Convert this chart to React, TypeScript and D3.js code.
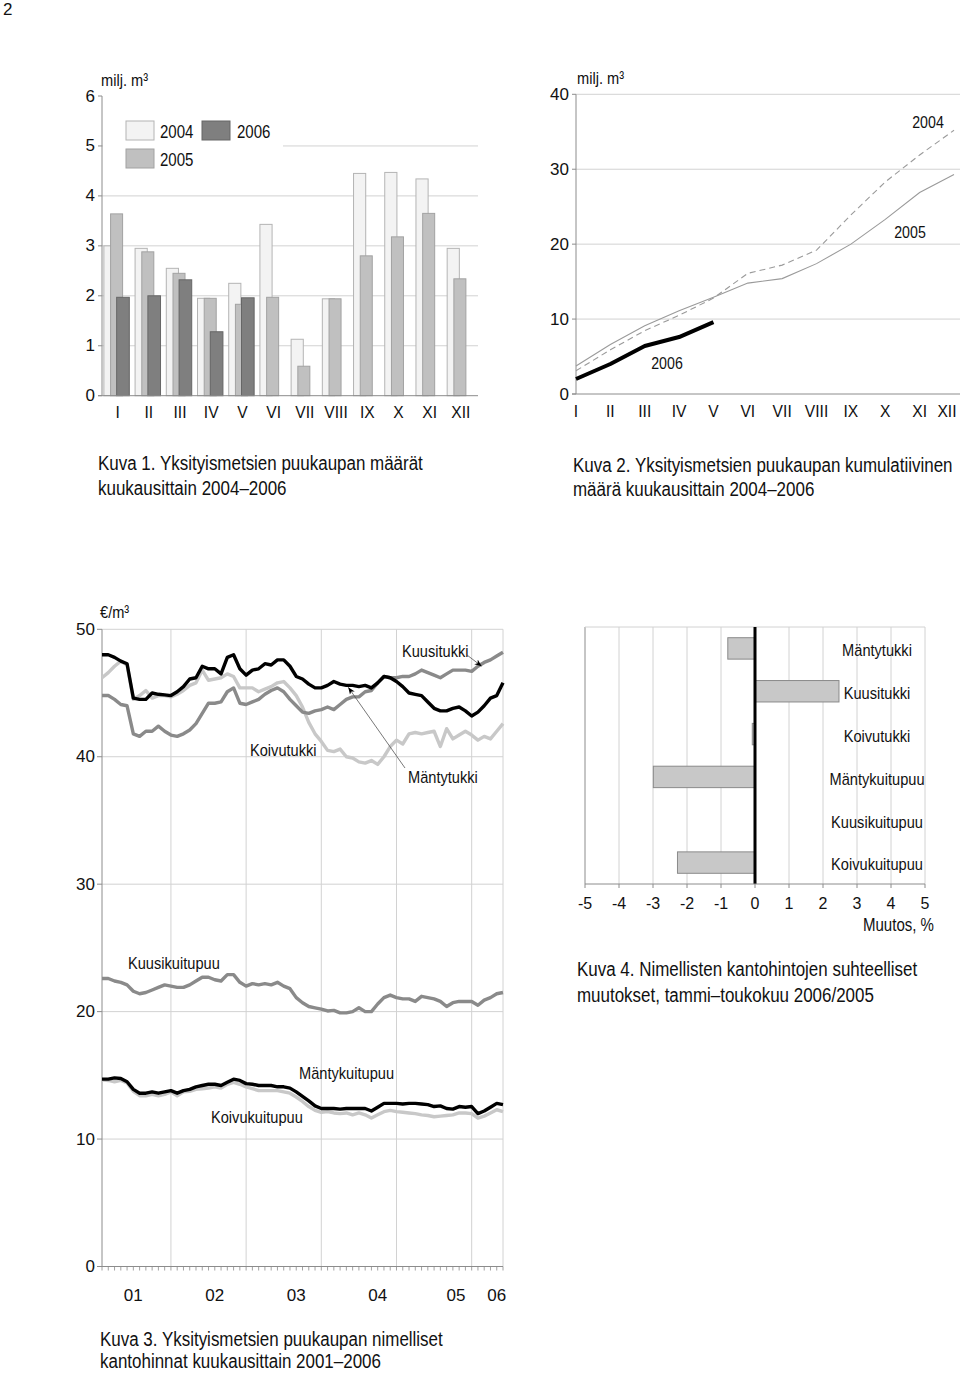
import * as d3 from "d3";

const FONT = "'Liberation Sans', Arial, Helvetica, sans-serif";
const GRID = "#d2d2d2";
const AXIS = "#8c8c8c";

// Kuva 1: monthly volumes, milj. m3
const months = ["I", "II", "III", "IV", "V", "VI", "VII", "VIII", "IX", "X", "XI", "XII"];
const vol2004 = [3.0, 2.95, 2.55, 1.95, 2.25, 3.43, 1.13, 1.94, 4.45, 4.47, 4.34, 2.95];
const vol2005 = [3.64, 2.88, 2.45, 1.95, 1.83, 1.97, 0.59, 1.94, 2.8, 3.18, 3.65, 2.34];
const vol2006 = [1.97, 2.0, 2.32, 1.28, 1.96];

// Kuva 2: cumulative volumes
const cum2004 = [3.1, 5.9, 8.45, 10.5, 12.8, 16.1, 17.2, 19.2, 23.9, 28.3, 31.9, 35.2];
const cum2005 = [3.74, 6.6, 9.1, 11.1, 12.9, 14.8, 15.4, 17.4, 20.0, 23.3, 26.9, 29.3];
const cum2006 = [2.0, 4.0, 6.4, 7.6, 9.6];

// Kuva 3: monthly stumpage prices 1/2001 - 5/2006, €/m3
const mantytukki = [
  48.0, 48.0, 47.8, 47.5, 47.3, 44.6, 44.5, 44.5, 45.0, 44.9, 44.85, 44.8, 45.1, 45.5, 46.1, 46.2,
  47.1, 46.9, 46.9, 46.5, 47.8, 48.0, 46.9, 46.4, 46.8, 46.9, 47.3, 47.2, 47.6, 47.6, 47.1, 46.3,
  46.1, 45.7, 45.4, 45.4, 45.6, 45.9, 45.7, 45.6, 45.6, 45.5, 45.6, 45.4, 45.8, 46.3, 46.2, 45.9,
  45.5, 45.0, 44.9, 44.8, 44.3, 43.8, 43.6, 43.6, 43.8, 43.9, 43.6, 43.2, 43.5, 44.0, 44.6, 44.8,
  45.8,
];
const kuusitukki = [
  44.8, 44.8, 44.5, 44.1, 44.0, 41.8, 41.6, 42.0, 42.0, 42.4, 42.0, 41.7, 41.6, 41.8, 42.1, 42.6,
  43.4, 44.2, 44.2, 44.3, 45.1, 45.4, 44.2, 44.1, 44.3, 44.5, 44.9, 45.2, 45.4, 45.1, 44.5, 44.0,
  43.5, 43.4, 43.6, 43.7, 43.9, 43.7, 44.1, 44.5, 44.7, 44.7, 45.1, 45.2, 45.8, 46.3, 46.2, 46.2,
  46.3, 46.3, 46.5, 46.8, 46.6, 46.4, 46.2, 46.5, 46.8, 46.8, 46.8, 46.7, 47.1, 47.4, 47.6, 47.9,
  48.2,
];
const koivutukki = [
  46.2, 46.6, 47.1, 47.5, 47.2, 44.5, 44.8, 45.2, 44.6, 44.8, 44.8, 44.7, 44.9, 45.2, 45.6, 45.8,
  46.8, 46.0, 46.1, 46.2, 46.5, 46.3, 45.4, 45.4, 45.4, 45.1, 45.3, 45.5, 45.8, 45.9, 45.4, 44.8,
  43.9, 42.7, 41.8, 41.2, 40.5, 40.4, 40.6, 40.0, 39.9, 39.6, 39.5, 39.7, 39.4, 40.0, 40.8, 41.3,
  41.0, 41.8, 41.9, 41.8, 41.9, 42.0, 40.8, 42.2, 41.4, 41.7, 42.0, 41.7, 41.3, 41.6, 41.4, 42.0,
  42.6,
];
const kuusikuitupuu = [
  22.6, 22.6, 22.4, 22.3, 22.1, 21.6, 21.4, 21.5, 21.7, 21.9, 22.1, 22.0, 21.9, 21.9, 22.1, 22.4,
  22.7, 22.7, 22.5, 22.4, 22.9, 22.9, 22.3, 22.0, 22.2, 22.1, 22.2, 22.1, 22.3, 22.0, 21.8, 21.1,
  20.7, 20.4, 20.3, 20.2, 20.05, 20.1, 19.9, 19.9, 20.0, 20.3, 20.0, 20.0, 20.6, 21.1, 21.3, 21.1,
  21.0, 21.0, 20.8, 21.2, 21.1, 21.0, 20.8, 20.4, 20.7, 20.8, 20.8, 20.8, 20.5, 20.9, 21.1, 21.4,
  21.5,
];
const mantykuitupuu = [
  14.7, 14.7, 14.8, 14.75, 14.5, 13.9, 13.6, 13.6, 13.7, 13.6, 13.7, 13.8, 13.6, 13.8, 13.9, 14.1,
  14.2, 14.3, 14.3, 14.2, 14.45, 14.7, 14.6, 14.35, 14.3, 14.2, 14.2, 14.2, 14.1, 14.1, 14.0, 13.7,
  13.35, 13.0, 12.6, 12.4, 12.4, 12.4, 12.35, 12.4, 12.4, 12.4, 12.4, 12.2, 12.5, 12.8, 12.8, 12.8,
  12.75, 12.8, 12.8, 12.75, 12.7, 12.55, 12.6, 12.4, 12.35, 12.55, 12.5, 12.55, 12.0, 12.2, 12.5, 12.8,
  12.7,
];
const koivukuitupuu = [
  14.65, 14.6, 14.5, 14.6, 14.4, 13.75, 13.4, 13.4, 13.5, 13.4, 13.5, 13.7, 13.4, 13.7, 13.75, 13.9,
  13.95, 14.0, 14.1, 14.0, 14.3, 14.45, 14.3, 14.1, 13.95, 13.8, 13.8, 13.8, 13.8, 13.7, 13.6, 13.3,
  12.95, 12.55, 12.25, 12.1, 12.15, 12.05, 12.0, 12.05, 11.9, 12.05, 11.9, 11.65, 11.9, 12.15, 12.25, 12.15,
  12.1, 12.05, 12.0, 11.9, 11.85, 11.75, 11.8, 11.85, 11.9, 12.05, 12.05, 12.0, 11.65, 11.8, 12.05, 12.3,
  12.15,
];
const yearLabels = ["01", "02", "03", "04", "05", "06"];
const yearLabelAt = [5, 18, 31, 44, 56.5, 63];
const yearBreaks = [11, 23, 35, 47, 59];
const priceTicks = [0, 10, 20, 30, 40, 50];

// Kuva 4: change 1-5/2006 vs 1-5/2005, %
const assortments = ["Mäntytukki", "Kuusitukki", "Koivutukki", "Mäntykuitupuu", "Kuusikuitupuu", "Koivukuitupuu"];
const changes = [-0.8, 2.47, -0.08, -2.99, 0, -2.28];
const changeTicks = [-5, -4, -3, -2, -1, 0, 1, 2, 3, 4, 5];

// condensed text like the original Helvetica Narrow
const T = ({ x, y, size = 17, anchor = "start", sx = 0.86, children }: any) => (
  <text
    transform={`translate(${x},${y}) scale(${sx},1)`}
    fontSize={size}
    textAnchor={anchor}
    dominantBaseline="central"
  >
    {children}
  </text>
);

const Chart1 = () => {
  const x = d3.scaleBand<string>().domain(months).range([102, 476.5]);
  const y = d3.scaleLinear().domain([0, 6]).range([395.7, 96]);
  const bw = x.bandwidth();
  const bars = [
    { data: vol2004, off: 0.06, w: 0.39, fill: "#f3f3f3", stroke: "#b4b4b4" },
    { data: vol2005, off: 0.275, w: 0.385, fill: "#c0c0c0", stroke: "#a2a2a2" },
    { data: vol2006, off: 0.47, w: 0.405, fill: "#7f7f7f", stroke: "#666" },
  ];
  return (
    <g>
      {[1, 2, 3, 4, 5].map((t) => (
        <line key={t} x1={102} x2={478} y1={y(t)} y2={y(t)} stroke={GRID} />
      ))}
      <rect x={103} y={108} width={180} height={70} fill="#fff" />
      {bars.map((b, k) =>
        b.data.map((v, i) => (
          <rect
            key={`${k}-${i}`}
            x={x(months[i])! + b.off * bw}
            y={y(v)}
            width={b.w * bw}
            height={y(0) - y(v)}
            fill={b.fill}
            stroke={b.stroke}
            strokeWidth={1}
          />
        ))
      )}
      <line x1={102} x2={102} y1={y(6)} y2={y(0)} stroke={AXIS} />
      <line x1={98} x2={478} y1={y(0)} y2={y(0)} stroke={AXIS} />
      {d3.range(0, 7).map((t) => (
        <g key={t}>
          <line x1={98} x2={102} y1={y(t)} y2={y(t)} stroke={AXIS} />
          <text x={95} y={y(t)} fontSize={17} textAnchor="end" dominantBaseline="central">
            {t}
          </text>
        </g>
      ))}
      {months.map((m) => (
        <T key={m} x={x(m)! + bw / 2} y={412} size={17} sx={0.92} anchor="middle">
          {m}
        </T>
      ))}
      <T x={101} y={80}>milj. m³</T>
      <rect x={126} y={121} width={28} height={19} fill="#f3f3f3" stroke="#b4b4b4" />
      <T x={160} y={132} size={17.5}>2004</T>
      <rect x={202} y={121} width={28} height={19} fill="#7f7f7f" stroke="#666" />
      <T x={237} y={132} size={17.5}>2006</T>
      <rect x={126} y={149} width={28} height={19} fill="#c0c0c0" stroke="#a2a2a2" />
      <T x={160} y={160} size={17.5}>2005</T>
      <T x={98} y={463} size={19.5} sx={0.87}>Kuva 1. Yksityismetsien puukaupan määrät</T>
      <T x={98} y={488} size={19.5} sx={0.87}>kuukausittain 2004–2006</T>
    </g>
  );
};

const Chart2 = () => {
  const x = d3.scalePoint<string>().domain(months).range([576, 954]);
  const y = d3.scaleLinear().domain([0, 40]).range([394, 94.3]);
  const line = d3
    .line<number>()
    .x((_, i) => x(months[i])!)
    .y((d) => y(d));
  return (
    <g>
      {[10, 20, 30, 40].map((t) => (
        <line key={t} x1={576} x2={960} y1={y(t)} y2={y(t)} stroke={GRID} />
      ))}
      <line x1={576} x2={576} y1={y(40)} y2={y(0)} stroke={AXIS} />
      <line x1={572} x2={960} y1={y(0)} y2={y(0)} stroke={AXIS} />
      {[0, 10, 20, 30, 40].map((t) => (
        <g key={t}>
          <line x1={572} x2={576} y1={y(t)} y2={y(t)} stroke={AXIS} />
          <text x={569} y={y(t)} fontSize={17} textAnchor="end" dominantBaseline="central">
            {t}
          </text>
        </g>
      ))}
      {months.map((m) => (
        <T key={m} x={Math.min(x(m)!, 947)} y={410.5} size={17} sx={0.92} anchor="middle">
          {m}
        </T>
      ))}
      <path d={line(cum2004)!} fill="none" stroke="#9a9a9a" strokeWidth={1.1} strokeDasharray="6,4" />
      <path d={line(cum2005)!} fill="none" stroke="#9a9a9a" strokeWidth={1.1} />
      <path d={line(cum2006)!} fill="none" stroke="#000" strokeWidth={4} strokeLinejoin="round" />
      <T x={577} y={78}>milj. m³</T>
      <T x={928} y={122} anchor="middle" size={16.5}>2004</T>
      <T x={910} y={232} anchor="middle" size={16.5}>2005</T>
      <T x={667} y={363} anchor="middle" size={16.5}>2006</T>
      <T x={573} y={465} size={19.5} sx={0.87}>Kuva 2. Yksityismetsien puukaupan kumulatiivinen</T>
      <T x={573} y={489} size={19.5} sx={0.87}>määrä kuukausittain 2004–2006</T>
    </g>
  );
};

const Chart3 = () => {
  const x = d3.scaleLinear().domain([0, 64]).range([102, 503]);
  const y = d3.scaleLinear().domain([0, 50]).range([1266.5, 629.3]);
  const line = d3
    .line<number>()
    .x((_, i) => x(i))
    .y((d) => y(d));
  const series = [
    { d: koivutukki, c: "#c8c8c8" },
    { d: kuusitukki, c: "#8a8a8a" },
    { d: mantytukki, c: "#000" },
    { d: kuusikuitupuu, c: "#8a8a8a" },
    { d: koivukuitupuu, c: "#c8c8c8" },
    { d: mantykuitupuu, c: "#000" },
  ];
  return (
    <g>
      <defs>
        <marker id="arr" viewBox="0 0 10 10" refX={10} refY={5} markerWidth={9} markerHeight={9} orient="auto">
          <path d="M0,1 L10,5 L0,9 L3,5 Z" fill="#000" />
        </marker>
      </defs>
      {priceTicks.slice(1).map((t) => (
        <line key={t} x1={102} x2={503} y1={y(t)} y2={y(t)} stroke={GRID} />
      ))}
      {[...yearBreaks, 64].map((b) => (
        <line key={b} x1={x(b)} x2={x(b)} y1={y(50)} y2={y(0)} stroke={GRID} />
      ))}
      <line x1={102} x2={102} y1={y(50)} y2={y(0)} stroke={AXIS} />
      <line x1={97} x2={503} y1={y(0)} y2={y(0)} stroke={AXIS} />
      {d3.range(0, 65).map((i) => (
        <line key={i} x1={x(i)} x2={x(i)} y1={y(0)} y2={y(0) + 4} stroke={AXIS} strokeWidth={0.8} />
      ))}
      {priceTicks.map((t) => (
        <g key={t}>
          <line x1={97} x2={102} y1={y(t)} y2={y(t)} stroke={AXIS} />
          <text x={95} y={y(t)} fontSize={17} textAnchor="end" dominantBaseline="central">
            {t}
          </text>
        </g>
      ))}
      {series.map((s, k) => (
        <path key={k} d={line(s.d)!} fill="none" stroke={s.c} strokeWidth={3.4} strokeLinejoin="round" />
      ))}
      {yearLabels.map((l, i) => (
        <text key={l} x={x(yearLabelAt[i])} y={1295} fontSize={17} textAnchor="middle" dominantBaseline="central">
          {l}
        </text>
      ))}
      <T x={100} y={612}>€/m³</T>
      <T x={402} y={651}>Kuusitukki</T>
      <line x1={467} y1={655} x2={x(60.6)} y2={y(47.1)} stroke="#555" strokeWidth={0.8} markerEnd="url(#arr)" />
      <T x={408} y={777}>Mäntytukki</T>
      <line x1={405} y1={768} x2={x(39.3)} y2={y(45.45)} stroke="#555" strokeWidth={0.8} markerEnd="url(#arr)" />
      <T x={250} y={750}>Koivutukki</T>
      <T x={128} y={963}>Kuusikuitupuu</T>
      <T x={299} y={1073}>Mäntykuitupuu</T>
      <T x={211} y={1117}>Koivukuitupuu</T>
      <T x={100} y={1339} size={19.5} sx={0.87}>Kuva 3. Yksityismetsien puukaupan nimelliset</T>
      <T x={100} y={1361} size={19.5} sx={0.87}>kantohinnat kuukausittain 2001–2006</T>
    </g>
  );
};

const Chart4 = () => {
  const x = d3.scaleLinear().domain([-5, 5]).range([585, 925]);
  const y = d3.scaleBand<string>().domain(assortments).range([627, 884]).paddingInner(0.5).paddingOuter(0.25);
  return (
    <g>
      {changeTicks.map((t) => (
        <line key={t} x1={x(t)} x2={x(t)} y1={627} y2={884} stroke={t === -5 ? AXIS : GRID} />
      ))}
      <line x1={585} x2={925} y1={627} y2={627} stroke={GRID} />
      {assortments.map((a, i) =>
        changes[i] === 0 ? null : (
          <rect
            key={a}
            x={x(Math.min(0, changes[i]))}
            y={y(a)!}
            width={Math.abs(x(changes[i]) - x(0))}
            height={y.bandwidth()}
            fill="#c8c8c8"
            stroke="#8a8a8a"
          />
        )
      )}
      <line x1={x(0)} x2={x(0)} y1={627} y2={884} stroke="#000" strokeWidth={3} />
      <line x1={585} x2={925} y1={884} y2={884} stroke={AXIS} />
      {changeTicks.map((t) => (
        <g key={t}>
          <line x1={x(t)} x2={x(t)} y1={884} y2={888} stroke={AXIS} />
          <text x={x(t)} y={903} fontSize={16} textAnchor="middle" dominantBaseline="central">
            {t}
          </text>
        </g>
      ))}
      {assortments.map((a) => (
        <T key={a} x={877} y={y(a)! + y.bandwidth() / 2 + 2} size={17} anchor="middle">
          {a}
        </T>
      ))}
      <T x={934} y={925} anchor="end" size={17.5}>Muutos, %</T>
      <T x={577} y={969} size={19.5} sx={0.87}>Kuva 4. Nimellisten kantohintojen suhteelliset</T>
      <T x={577} y={995} size={19.5} sx={0.87}>muutokset, tammi–toukokuu 2006/2005</T>
    </g>
  );
};

export default function App() {
  return (
    <svg
      width={960}
      height={1373}
      style={{ position: "absolute", left: 0, top: 0, background: "#fff" }}
      fontFamily={FONT}
      fill="#111"
    >
      <rect width={960} height={1373} fill="#fff" />
      <text x={3} y={9} fontSize={17} dominantBaseline="central">
        2
      </text>
      <Chart1 />
      <Chart2 />
      <Chart3 />
      <Chart4 />
    </svg>
  );
}
